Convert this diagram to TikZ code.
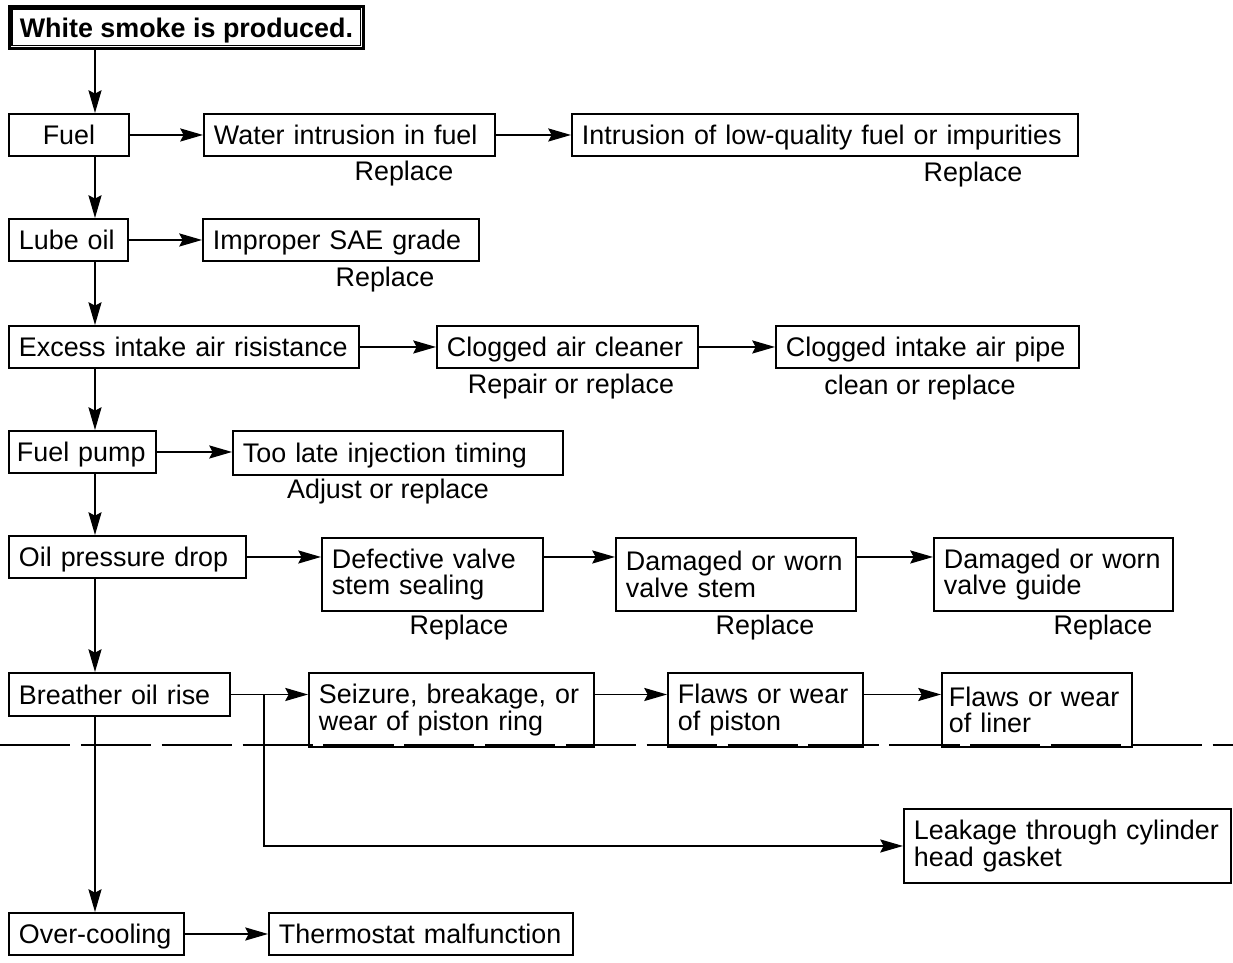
\documentclass[tikz,border=0pt]{standalone}
\usepackage{fontspec}
\setmainfont{Liberation Sans}
\usetikzlibrary{arrows.meta,positioning}

\tikzset{
  fault/.style={draw, line width=1.1pt, anchor=north west, inner xsep=0.2cm, inner ysep=0pt,
    text height=11pt, text depth=0pt, align=left, font=\fontsize{15.3}{15}\selectfont},
  tallfault/.style={fault, text height=, text depth=},
  remedy/.style={inner sep=0pt, font=\fontsize{15.3}{15}\selectfont},
  link/.style={->, line width=0.8pt}
}

\begin{document}
\begin{tikzpicture}[>={Stealth[length=13pt,width=7.5pt,inset=2pt]}]
  \useasboundingbox (0,0) rectangle (24.66,-19.24);
  % start box
  \node[fault, line width=1.6pt, minimum width=7.08cm, minimum height=0.84cm,
    align=center, font=\bfseries\fontsize{15.3}{15}\selectfont] (smoke) at (0.16,-0.1) {White smoke is produced.};
  \draw[line width=0.6pt] ([shift={(0.08,-0.08)}]smoke.north west) rectangle ([shift={(-0.08,0.08)}]smoke.south east);
  % fuel
  \node[fault, minimum width=2.4cm, minimum height=0.84cm, align=center] (fuel) at (0.16,-2.26) {Fuel};
  \node[fault, text width=5.42cm, minimum height=0.84cm] (water) at (4.06,-2.26) {Water intrusion in fuel};
  \node[fault, text width=9.72cm, minimum height=0.84cm] (lowfuel) at (11.42,-2.26) {Intrusion of low-quality fuel or impurities};
  \node[remedy] (water-fix) at (8.08,-3.48) {Replace};
  \node[remedy] (lowfuel-fix) at (19.46,-3.5) {Replace};
  % lube oil
  \node[fault, text width=1.98cm, minimum height=0.84cm] (lube) at (0.16,-4.36) {Lube oil};
  \node[fault, text width=5.12cm, minimum height=0.84cm] (sae) at (4.04,-4.36) {Improper SAE grade};
  \node[remedy] (sae-fix) at (7.7,-5.6) {Replace};
  % intake air
  \node[fault, text width=6.6cm, minimum height=0.84cm] (intake) at (0.16,-6.5) {Excess intake air risistance};
  \node[fault, text width=4.82cm, minimum height=0.84cm] (cleaner) at (8.72,-6.5) {Clogged air cleaner};
  \node[fault, text width=5.66cm, minimum height=0.84cm] (pipe) at (15.5,-6.5) {Clogged intake air pipe};
  \node[remedy] (cleaner-fix) at (11.42,-7.74) {Repair or replace};
  \node[remedy] (pipe-fix) at (18.4,-7.76) {clean or replace};
  % fuel pump
  \node[fault, inner xsep=0.16cm, text width=2.62cm, minimum height=0.84cm] (pump) at (0.16,-8.6) {Fuel pump};
  \node[fault, text width=6.2cm, minimum height=0.88cm] (timing) at (4.64,-8.6) {Too late injection timing};
  \node[remedy] (timing-fix) at (7.76,-9.84) {Adjust or replace};
  % oil pressure
  \node[fault, text width=4.34cm, minimum height=0.84cm] (oilp) at (0.16,-10.7) {Oil pressure drop};
  \node[tallfault, text width=4.02cm, minimum height=1.46cm] (seal) at (6.42,-10.74) {Defective valve\\stem sealing};
  \node[tallfault, text width=4.4cm, minimum height=1.46cm] (stem) at (12.3,-10.74) {Damaged or worn\\valve stem};
  \node[tallfault, text width=4.38cm, minimum height=1.46cm] (guide) at (18.66,-10.74) {Damaged or worn\\valve guide};
  \node[remedy] (seal-fix) at (9.18,-12.56) {Replace};
  \node[remedy] (stem-fix) at (15.3,-12.56) {Replace};
  \node[remedy] (guide-fix) at (22.06,-12.56) {Replace};
  % breather
  \node[fault, text width=4.02cm, minimum height=0.86cm] (breather) at (0.16,-13.44) {Breather oil rise};
  \node[tallfault, text width=5.3cm, minimum height=1.48cm] (ring) at (6.16,-13.44) {Seizure, breakage, or\\wear of piston ring};
  \node[tallfault, text width=3.5cm, minimum height=1.48cm] (piston) at (13.34,-13.44) {Flaws or wear\\of piston};
  \node[tallfault, inner xsep=0.14cm, text width=3.52cm, minimum height=1.48cm] (liner) at (18.82,-13.44) {Flaws or wear\\of liner};
  \node[tallfault, text width=6.14cm, minimum height=1.48cm] (gasket) at (18.06,-16.16) {Leakage through cylinder\\head gasket};
  % over-cooling
  \node[fault, text width=3.1cm, minimum height=0.84cm] (cooling) at (0.16,-18.24) {Over-cooling};
  \node[fault, text width=5.68cm, minimum height=0.84cm] (thermo) at (5.36,-18.24) {Thermostat malfunction};

  \draw[dash pattern=on 40pt off 6pt, line width=0.7pt] (0,-14.9) -- (24.66,-14.9);

  % main line
  \coordinate (trunk) at (1.9,0);
  \coordinate (split) at (5.28,0);
  \draw[link] (smoke.south -| trunk) -- (fuel.north -| trunk);
  \draw[link] (fuel.south -| trunk) -- (lube.north -| trunk);
  \draw[link] (lube.south -| trunk) -- (intake.north -| trunk);
  \draw[link] (intake.south -| trunk) -- (pump.north -| trunk);
  \draw[link] (pump.south -| trunk) -- (oilp.north -| trunk);
  \draw[link] (oilp.south -| trunk) -- (breather.north -| trunk);
  \draw[link] (breather.south -| trunk) -- (cooling.north -| trunk);
  % side branches
  \draw[link] (fuel) -- (water);
  \draw[link] (water) -- (lowfuel);
  \draw[link] (lube) -- (sae);
  \draw[link] (intake) -- (cleaner);
  \draw[link] (cleaner) -- (pipe);
  \draw[link] (pump.east) -- (timing.west |- pump.east);
  \draw[link] (oilp.east) -- (seal.west |- oilp.east);
  \draw[link] (seal.east |- oilp.east) -- (stem.west |- oilp.east);
  \draw[link] (stem.east |- oilp.east) -- (guide.west |- oilp.east);
  \draw[link] (breather.east) -- (ring.west |- breather.east);
  \draw[link] (ring.east |- breather.east) -- (piston.west |- breather.east);
  \draw[link] (piston.east |- breather.east) -- (liner.west |- breather.east);
  \draw[link] (breather.east -| split) |- (gasket.west);
  \draw[link] (cooling) -- (thermo);
\end{tikzpicture}
\end{document}
